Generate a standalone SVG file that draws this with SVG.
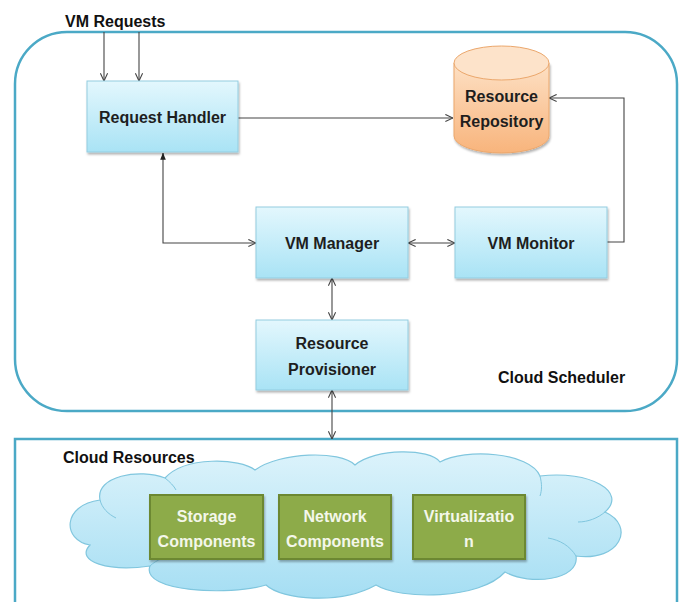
<svg xmlns="http://www.w3.org/2000/svg" width="681" height="602" viewBox="0 0 681 602">
<style>
.lbl{font-family:"Liberation Sans",Arial,sans-serif;font-size:16px;font-weight:bold;fill:#1e1e1e;text-anchor:middle}
.glbl{font-family:"Liberation Sans",Arial,sans-serif;font-size:16px;font-weight:bold;fill:#f4f7ea;text-anchor:middle}
.free{font-family:"Liberation Sans",Arial,sans-serif;font-size:16px;font-weight:bold;fill:#111}
.box{fill:url(#blueGrad);stroke:#93cde0;stroke-width:1;filter:url(#shadow)}
.gbox{fill:#8dab4a;stroke:#6c8832;stroke-width:2;filter:url(#shadow)}
.frame{fill:none;stroke:#4ba9c6;stroke-width:2.5}
.conn{fill:none;stroke:#444;stroke-width:1.1}
</style>
<defs>
<linearGradient id="blueGrad" x1="0" y1="0" x2="0" y2="1">
<stop offset="0" stop-color="#e3f7fd"/>
<stop offset="1" stop-color="#a9e3f5"/>
</linearGradient>
<linearGradient id="cloudGrad" x1="0" y1="0" x2="0" y2="1">
<stop offset="0" stop-color="#dcf3fb"/>
<stop offset="1" stop-color="#a5def3"/>
</linearGradient>
<linearGradient id="orangeGrad" x1="0" y1="0" x2="0" y2="1">
<stop offset="0" stop-color="#fde0c4"/>
<stop offset="1" stop-color="#f8b47c"/>
</linearGradient>
<filter id="shadow" x="-10%" y="-10%" width="125%" height="130%">
<feDropShadow dx="1" dy="2" stdDeviation="1.2" flood-color="#000" flood-opacity="0.3"/>
</filter>
<marker id="open" viewBox="0 0 10 10" refX="9.5" refY="5" markerWidth="9" markerHeight="9" orient="auto-start-reverse" markerUnits="userSpaceOnUse">
<path d="M1,1 L9.5,5 L1,9" fill="none" stroke="#444" stroke-width="1.2"/>
</marker>
<marker id="solid" viewBox="0 0 10 10" refX="9.5" refY="5" markerWidth="8" markerHeight="8" orient="auto-start-reverse" markerUnits="userSpaceOnUse">
<path d="M1,1.5 L10,5 L1,8.5 Z" fill="#222"/>
</marker>
</defs>
<rect width="681" height="602" fill="#fff"/>

<g id="cloud-scheduler">
<rect class="frame" x="15" y="32" width="662" height="379" rx="52" ry="52"/>
<text class="free" x="498" y="383">Cloud Scheduler</text>
</g>

<g id="cloud-resources">
<rect class="frame" x="15" y="439" width="662" height="180"/>
<text class="free" x="63" y="463">Cloud Resources</text>
<path d="M90,545 C62,540 62,505 100,500 C95,476 140,468 165,478 C185,456 240,458 255,470 C280,452 340,450 355,465 C375,448 430,448 440,462 C465,448 530,452 540,476 C590,470 628,492 605,512 C636,526 620,562 576,556 C580,580 530,586 505,572 C480,600 400,600 376,585 C340,605 282,600 266,585 C230,596 140,592 150,566 C110,572 74,562 90,545 Z" fill="url(#cloudGrad)" stroke="#80c6de" stroke-width="1.2"/>
<path d="M100,500 C102,508 108,514 116,518 M165,478 C170,482 174,486 176,490 M540,476 C542,484 542,490 540,496 M605,512 C598,518 588,522 578,522 M576,556 C570,546 560,540 548,538 M150,566 C156,560 166,556 178,555" fill="none" stroke="#80c6de" stroke-width="1"/>
</g>

<g id="connectors">
<line class="conn" x1="104" y1="32" x2="104" y2="81" marker-end="url(#open)" stroke="#666"/>
<line class="conn" x1="139" y1="32" x2="139" y2="81" marker-end="url(#open)" stroke="#666"/>
<line class="conn" x1="238" y1="118" x2="453" y2="118" marker-end="url(#open)"/>
<polyline class="conn" points="163,153 163,243 256,243" marker-start="url(#solid)" marker-end="url(#open)"/>
<line class="conn" x1="408" y1="243" x2="455" y2="243" marker-start="url(#open)" marker-end="url(#open)"/>
<polyline class="conn" points="607,242 624,242 624,98 549,98" marker-end="url(#open)"/>
<line class="conn" x1="332" y1="278" x2="332" y2="320" marker-start="url(#open)" marker-end="url(#open)" stroke="#666"/>
<line class="conn" x1="332" y1="390" x2="332" y2="439" marker-start="url(#open)" marker-end="url(#open)" stroke="#666"/>
</g>

<g id="vm-requests">
<text class="free" x="65" y="27">VM Requests</text>
</g>

<g id="request-handler">
<rect class="box" x="87" y="81" width="151" height="71"/>
<text class="lbl" x="162.5" y="123">Request Handler</text>
</g>

<g id="resource-repository">
<path d="M454,63 V136 A47.5,17 0 0 0 549,136 V63 Z" fill="url(#orangeGrad)" stroke="#eba76c" stroke-width="1" filter="url(#shadow)"/>
<ellipse cx="501.5" cy="63" rx="47.5" ry="17" fill="#fde3ca" stroke="#eba76c" stroke-width="1"/>
<text class="lbl" x="501.5" y="102">Resource</text>
<text class="lbl" x="501.5" y="127">Repository</text>
</g>

<g id="vm-manager">
<rect class="box" x="256" y="207" width="152" height="71"/>
<text class="lbl" x="332" y="249">VM Manager</text>
</g>

<g id="vm-monitor">
<rect class="box" x="455" y="207" width="152" height="71"/>
<text class="lbl" x="531" y="249">VM Monitor</text>
</g>

<g id="resource-provisioner">
<rect class="box" x="256" y="320" width="152" height="70"/>
<text class="lbl" x="332" y="349">Resource</text>
<text class="lbl" x="332" y="375">Provisioner</text>
</g>

<g id="storage-components">
<rect class="gbox" x="150" y="495" width="113" height="64"/>
<text class="glbl" x="206.5" y="522">Storage</text>
<text class="glbl" x="206.5" y="547">Components</text>
</g>

<g id="network-components">
<rect class="gbox" x="279" y="495" width="112" height="64"/>
<text class="glbl" x="335" y="522">Network</text>
<text class="glbl" x="335" y="547">Components</text>
</g>

<g id="virtualization">
<rect class="gbox" x="413" y="495" width="112" height="64"/>
<text class="glbl" x="469" y="522">Virtualizatio</text>
<text class="glbl" x="469" y="547">n</text>
</g>
</svg>
